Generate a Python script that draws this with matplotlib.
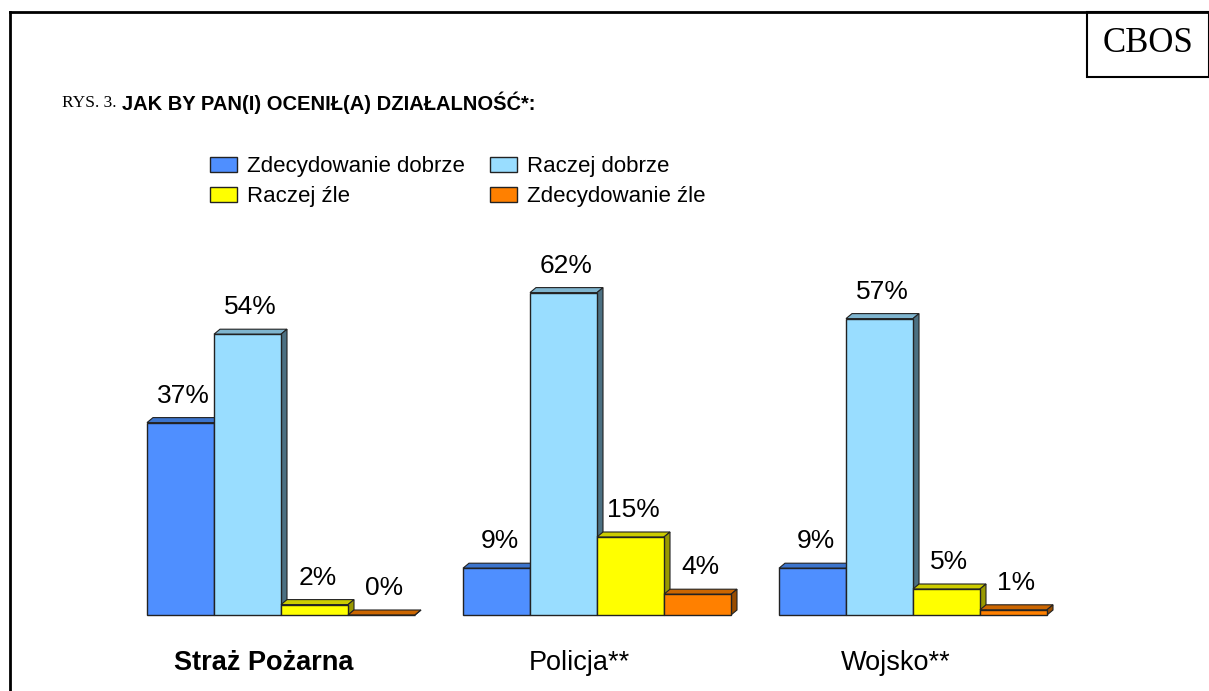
import matplotlib.pyplot as plt
from matplotlib.patches import Polygon, Rectangle, Patch

categories = ["Straż Pożarna", "Policja**", "Wojsko**"]
series = ["Zdecydowanie dobrze", "Raczej dobrze", "Raczej źle", "Zdecydowanie źle"]
zdecydowanie_dobrze = [37, 9, 9]
raczej_dobrze = [54, 62, 57]
raczej_zle = [2, 15, 5]
zdecydowanie_zle = [0, 4, 1]

front = ["#4F8FFF", "#99DDFF", "#FFFF00", "#FF8000"]
top = ["#3C74CC", "#7FB5CF", "#CCCC00", "#CC6600"]
side = ["#2F5DA8", "#4C7082", "#999900", "#994C00"]

W, H = 1209, 691
PXX, PXY = 67.0, 5.2        # pixels per bar width / per percent
X0, Y0 = 147, 76            # first bar left, baseline from bottom
DX, DY = 6 / PXX, 5 / PXY   # 3d depth
group_start = [0, 316 / PXX, 632 / PXX]

plt.rcParams['font.family'] = ['Liberation Sans', 'DejaVu Sans']
fig = plt.figure(figsize=(W / 100, H / 100), dpi=100)
ax = fig.add_axes([0, 0, 1, 1])
ax.set_xlim(-X0 / PXX, (W - X0) / PXX)
ax.set_ylim(-Y0 / PXY, (H - Y0) / PXY)
ax.axis("off")

data = [zdecydowanie_dobrze, raczej_dobrze, raczej_zle, zdecydowanie_zle]
for s, vals in enumerate(data):
    xs = [g + s for g in group_start]
    ax.bar(xs, vals, width=1, align="edge", color=front[s],
           edgecolor="#222222", linewidth=1, zorder=3 + s)
    for x, v in zip(xs, vals):
        ax.add_patch(Polygon([(x, v), (x + DX, v + DY), (x + 1 + DX, v + DY), (x + 1, v)],
                             closed=True, facecolor=top[s], edgecolor="#222222",
                             linewidth=0.8, zorder=2 + s))
        ax.add_patch(Polygon([(x + 1, 0), (x + 1 + DX, DY), (x + 1 + DX, v + DY), (x + 1, v)],
                             closed=True, facecolor=side[s], edgecolor="#222222",
                             linewidth=0.8, zorder=2 + s))
        ax.text(x + 0.5 + DX / 2, v + 5.2, f"{v}%", ha="center", va="center",
                fontsize=19, zorder=10)

for g, name in zip(group_start, categories):
    ax.text(g + 1.74, -48 / PXY, name, ha="center", va="center", fontsize=19.5,
            fontweight="bold" if g == 0 else "normal")

handles = [Patch(facecolor=front[i], edgecolor="#222222", linewidth=1) for i in range(4)]
order = [0, 2, 1, 3]
fig.legend([handles[i] for i in order], [series[i] for i in order], ncol=2,
           loc="upper left", bbox_to_anchor=(201 / W, 1 - 147 / H), frameon=False,
           fontsize=16, handlelength=1.2, handleheight=0.65, handletextpad=0.45,
           columnspacing=1.15, labelspacing=0.42, borderaxespad=0)

# frame and CBOS box
fig.add_artist(plt.Line2D([10 / W, 10 / W], [0, 1 - 12 / H], color="black", lw=2))
fig.add_artist(plt.Line2D([10 / W, 1], [1 - 12 / H, 1 - 12 / H], color="black", lw=2))
fig.add_artist(Rectangle((1087 / W, 1 - 77 / H), (W - 1087) / W, 65 / H,
                         transform=fig.transFigure, fill=False, edgecolor="black", lw=1.5))
fig.text(1148 / W, 1 - 44 / H, "CBOS", ha="center", va="center", fontsize=25,
         family="Liberation Serif")

fig.text(62 / W, 1 - 103 / H, "RYS. 3.", ha="left", va="center", fontsize=12.5,
         family="Liberation Serif")
fig.text(122 / W, 1 - 103 / H, "JAK BY PAN(I) OCENIŁ(A) DZIAŁALNOŚĆ*:", ha="left",
         va="center", fontsize=14.5, fontweight="bold")

fig.savefig("out.png", dpi=100)
